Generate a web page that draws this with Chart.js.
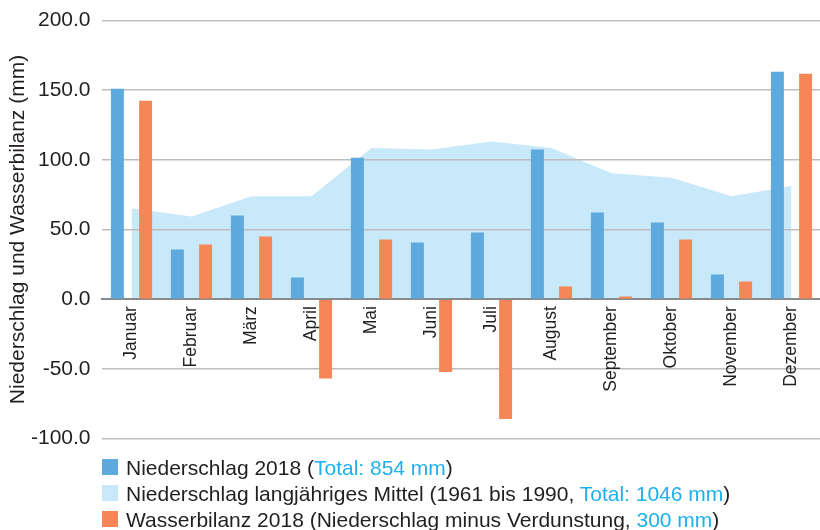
<!DOCTYPE html>
<html>
<head>
<meta charset="utf-8">
<script src="https://cdn.jsdelivr.net/npm/chart.js@4/dist/chart.umd.min.js"></script>
<style>
  html, body { margin: 0; padding: 0; background: #fff; overflow: hidden; }
  body { width: 820px; height: 530px; position: relative; font-family: "Liberation Sans", Arial, sans-serif; color: #231f20; }
  #wrap { position: absolute; left: 0; top: -3px; width: 830px; height: 465px; }
  .row { position: absolute; left: 0; font-size: 21px; line-height: 21px; white-space: nowrap; }
  .box { position: absolute; left: 102px; width: 16px; height: 16px; }
  .txt { position: absolute; left: 126px; top: 0; }
  .hl { color: #1cb1ec; }
</style>
</head>
<body>
<div id="wrap"><canvas id="chartRain"></canvas></div>
<div id="legend"></div>
<script>
const months = ["Januar", "Februar", "März", "April", "Mai", "Juni", "Juli",
  "August", "September", "Oktober", "November", "Dezember"];
const rain2018 = [151.1, 35.7, 60.0, 15.6, 101.6, 40.7, 47.8, 107.4, 62.2, 55.0, 17.7, 163.3];
const rainMean = [65.3, 59.3, 73.9, 73.9, 108.6, 107.4, 113.1, 108.6, 90.4, 87.1, 73.9, 81.3];
const balance2018 = [142.5, 39.2, 45.0, -56.9, 42.8, -52.4, -86.1, 9.1, 1.9, 42.8, 12.7, 161.9];
const yTicks = [-100, -50, 0, 50, 100, 150, 200];

const legendRows = [
  { color: "#5ea9dd", parts: ["Niederschlag 2018 (", "Total: 854 mm", ")"] },
  { color: "#c7e9f9", parts: ["Niederschlag langjähriges Mittel (1961 bis 1990, ", "Total: 1046 mm", ")"] },
  { color: "#f58657", parts: ["Wasserbilanz 2018 (Niederschlag minus Verdunstung, ", "300 mm", ")"] },
];

const chartRain = new Chart("chartRain", {
  data: {
    labels: months,
    datasets: [
      {
        type: "bar",
        label: "Niederschlag 2018",
        data: rain2018,
        backgroundColor: "#5ea9dd",
        order: 1,
      },
      {
        type: "bar",
        label: "Wasserbilanz 2018",
        data: balance2018,
        backgroundColor: "#f58657",
        order: 1,
      },
      {
        type: "line",
        label: "Niederschlag langjähriges Mittel",
        data: rainMean,
        backgroundColor: "#c7e9f9",
        borderWidth: 0,
        pointRadius: 0,
        fill: "origin",
        tension: 0,
        order: 2,
      },
    ],
  },
  options: {
    responsive: true,
    maintainAspectRatio: false,
    animation: false,
    layout: { padding: { top: 17, right: 8.5, bottom: 0, left: 0 } },
    datasets: {
      bar: { categoryPercentage: 0.94, barPercentage: 0.46 },
    },
    plugins: {
      legend: { display: false },
      tooltip: { enabled: false },
      filler: { drawTime: "beforeDraw" },
    },
    scales: {
      x: {
        position: { y: 0 },
        grid: { display: false, drawTicks: false },
        border: { display: true, color: "#8a8a8a", width: 2 },
        ticks: {
          autoSkip: false,
          minRotation: 90,
          maxRotation: 90,
          padding: 7,
          color: "#231f20",
          font: { family: "Liberation Sans", size: 17.5 },
        },
        afterFit: (scale) => { scale.height = 0; },
      },
      y: {
        min: -100,
        max: 200,
        afterBuildTicks: (scale) => { scale.ticks = yTicks.map((v) => ({ value: v })); },
        grid: {
          drawTicks: false,
          color: "#bdbdbd",
          lineWidth: 1.5,
        },
        border: { display: false },
        ticks: {
          padding: 11,
          color: "#231f20",
          font: { family: "Liberation Sans", size: 21 },
          callback: (v) => Number(v).toFixed(1),
        },
        title: {
          display: true,
          text: "Niederschlag und Wasserbilanz (mm)",
          color: "#231f20",
          font: { family: "Liberation Sans", size: 21 },
          padding: { top: 6, bottom: 0 },
        },
        afterFit: (scale) => { scale.width = 101.5; },
      },
    },
  },
});

// legend with coloured totals, built as html text
const legend = document.getElementById("legend");
legendRows.forEach((r, i) => {
  const row = document.createElement("div");
  row.className = "row";
  row.style.top = (456.5 + i * 26.3) + "px";
  const box = document.createElement("div");
  box.className = "box";
  box.style.top = "2px";
  box.style.background = r.color;
  const txt = document.createElement("span");
  txt.className = "txt";
  txt.innerHTML = r.parts[0] + '<span class="hl">' + r.parts[1] + "</span>" + r.parts[2];
  row.appendChild(box);
  row.appendChild(txt);
  legend.appendChild(row);
});
</script>
</body>
</html>
